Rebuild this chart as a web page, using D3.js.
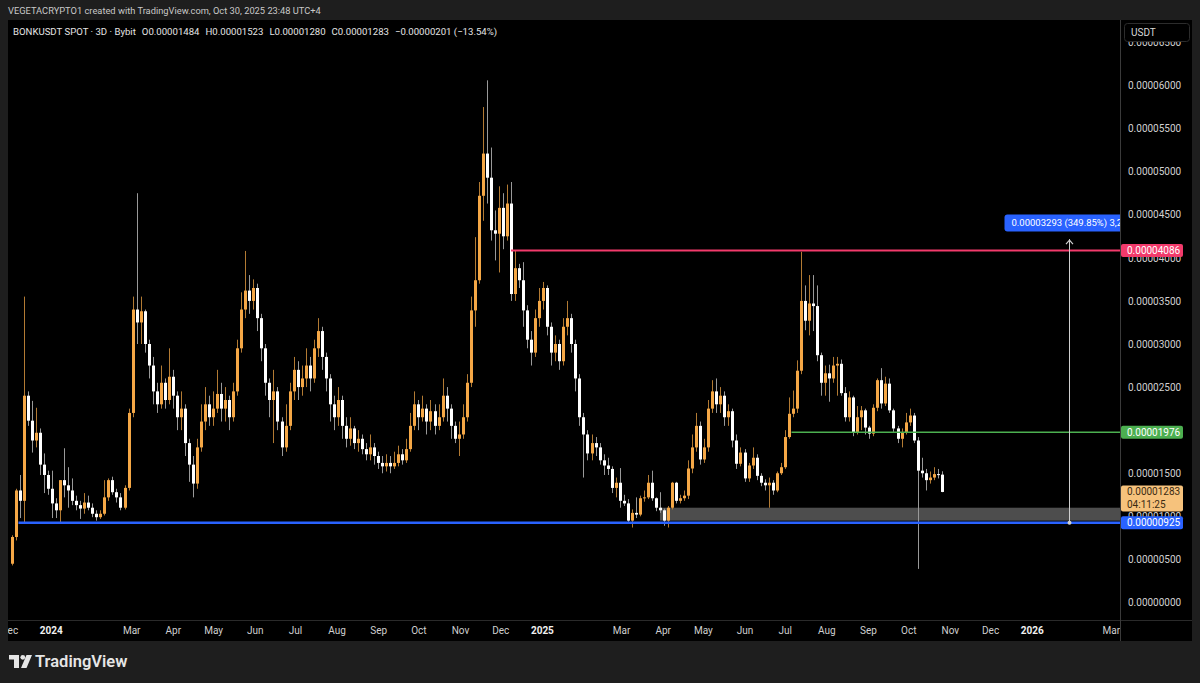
<!DOCTYPE html>
<html><head><meta charset="utf-8">
<script src="https://cdn.jsdelivr.net/npm/d3@7"></script>
<style>
html,body{margin:0;padding:0;background:#1e1e1e;}
svg{display:block;}
text{font-family:Roboto,"Noto Sans",sans-serif;}
</style></head><body>
<svg id="chart" width="1200" height="683"></svg>
<script>
// ---- DATA (prices in units of 1e-5 USDT) ----
const startDate = "2023-12-03";
const stepDays = 3;
const firstOpen = 0.45;
const closes = [
0.76,1.30,1.18,2.40,2.11,1.88,1.97,1.60,1.48,1.32,
1.15,1.07,1.42,1.36,1.30,1.18,1.13,1.09,1.16,1.10,
1.03,0.99,1.03,1.22,1.42,1.28,1.22,1.10,1.33,2.20,
3.40,3.25,3.38,3.00,2.75,2.45,2.30,2.55,2.35,2.62,
2.40,2.15,2.25,1.85,1.60,1.38,1.80,2.10,2.30,2.15,
2.25,2.42,2.25,2.35,2.15,2.45,2.95,3.40,3.62,3.50,
3.65,3.30,2.95,2.55,2.35,2.45,2.10,1.80,2.05,2.45,
2.70,2.50,2.60,2.75,2.60,2.95,3.15,2.85,2.60,2.30,
2.15,2.35,2.05,1.90,2.02,1.85,1.90,1.78,1.72,1.80,
1.70,1.62,1.58,1.62,1.58,1.62,1.72,1.65,1.78,2.05,
2.30,2.15,2.25,2.10,2.22,2.05,2.15,2.40,2.25,2.05,
1.90,1.95,2.15,2.55,3.39,3.74,4.72,5.21,4.93,4.32,
4.28,4.58,4.25,4.63,3.58,3.88,3.74,3.39,3.05,2.90,
3.30,3.50,3.65,3.20,2.90,3.00,2.80,3.20,3.30,3.00,
2.60,2.15,1.95,1.73,1.85,1.80,1.65,1.59,1.55,1.33,
1.39,1.18,1.15,0.95,1.04,1.02,1.21,1.22,1.39,1.21,
1.10,1.07,0.95,1.10,1.39,1.18,1.21,1.24,1.555,1.80,
2.05,1.66,1.80,2.25,2.45,2.30,2.40,2.15,2.22,1.88,
1.61,1.74,1.44,1.59,1.68,1.47,1.39,1.36,1.39,1.30,
1.50,1.57,1.92,2.19,2.25,2.69,3.50,3.27,3.47,3.44,
2.87,2.55,2.66,2.60,2.75,2.77,2.43,2.15,2.38,1.97,
2.15,2.23,2.03,1.96,2.26,2.58,2.31,2.54,2.23,2.02,
1.90,1.97,2.09,2.17,1.88,1.53,1.50,1.42,1.45,1.49,
1.484,1.283];
const highs = [
0.78,1.32,1.48,3.55,2.45,2.34,2.26,2.02,1.73,1.53,
1.53,1.21,1.42,1.79,1.57,1.44,1.24,1.18,1.27,1.24,
1.15,1.07,1.07,1.42,1.44,1.46,1.32,1.27,1.36,2.25,
3.55,4.75,3.55,3.40,3.05,2.85,2.55,2.75,2.60,2.95,
2.70,2.45,2.45,2.30,1.90,1.70,1.90,2.30,2.50,2.40,
2.45,2.70,2.55,2.50,2.40,2.55,3.05,3.60,4.08,3.80,
3.75,3.70,3.35,3.00,2.60,2.70,2.50,2.15,2.30,2.55,
2.85,2.80,2.75,2.95,2.85,3.05,3.30,3.20,2.90,2.65,
2.40,2.50,2.40,2.15,2.15,2.05,2.00,1.95,1.85,1.95,
1.85,1.75,1.70,1.72,1.70,1.75,1.82,1.78,1.90,2.20,
2.45,2.35,2.40,2.30,2.35,2.30,2.30,2.60,2.50,2.30,
2.10,2.10,2.30,2.65,3.55,4.24,4.88,5.75,6.06,5.28,
4.55,4.83,4.75,4.85,4.88,4.086,3.93,3.95,3.45,3.15,
3.40,3.65,3.72,3.68,3.25,3.10,3.05,3.30,3.50,3.35,
3.05,2.65,2.20,2.00,1.95,1.92,1.85,1.72,1.68,1.58,
1.45,1.56,1.25,1.20,1.08,1.22,1.24,1.30,1.48,1.53,
1.22,1.28,1.09,1.12,1.40,1.40,1.25,1.30,1.65,1.95,
2.20,2.10,1.90,2.35,2.58,2.60,2.50,2.45,2.30,2.25,
1.95,1.80,1.78,1.62,1.80,1.72,1.50,1.43,1.45,1.42,
1.52,1.62,2.00,2.38,2.46,2.81,4.07,3.68,3.80,3.80,
3.68,2.90,2.75,2.76,2.85,2.85,2.82,2.50,2.45,2.40,
2.28,2.28,2.25,2.05,2.30,2.60,2.72,2.62,2.60,2.25,
2.05,2.02,2.20,2.25,2.20,1.92,1.68,1.55,1.52,1.57,
1.55,1.523];
const lows = [
0.43,0.72,0.98,0.92,2.05,1.74,1.80,1.48,1.27,1.25,
0.98,0.98,0.92,1.22,1.10,1.13,1.07,0.97,1.03,1.07,
0.99,0.95,0.97,1.01,1.18,1.25,1.16,1.07,1.08,1.30,
2.15,3.00,3.00,2.90,2.60,2.30,2.20,2.25,2.25,2.30,
2.25,2.00,2.00,1.70,1.40,1.22,1.32,1.75,2.00,2.05,
2.05,2.20,2.10,2.10,2.00,2.10,2.40,2.90,3.30,3.35,
3.40,3.15,2.80,2.40,2.15,1.85,2.00,1.70,1.75,2.00,
2.35,2.35,2.40,2.50,2.45,2.55,2.85,2.70,2.45,2.10,
2.00,2.05,1.90,1.80,1.82,1.78,1.75,1.72,1.65,1.65,
1.60,1.55,1.50,1.52,1.50,1.55,1.58,1.60,1.62,1.75,
2.00,2.00,2.10,1.95,2.00,1.95,2.00,2.10,2.10,1.90,
1.85,1.70,1.90,2.10,2.50,3.20,3.70,4.43,4.63,4.20,
3.97,3.83,4.10,4.20,3.50,3.50,3.65,3.20,2.95,2.75,
2.85,3.20,3.40,3.10,2.75,2.80,2.70,2.75,3.10,2.90,
2.45,2.05,1.45,1.65,1.65,1.70,1.60,1.48,1.48,1.27,
1.22,1.10,1.12,0.93,0.87,0.98,1.00,1.17,1.20,1.18,
1.06,1.04,0.89,0.87,1.08,1.15,1.15,1.18,1.20,1.50,
1.75,1.60,1.62,1.75,2.20,2.20,2.20,2.05,2.05,1.80,
1.55,1.58,1.40,1.40,1.55,1.42,1.35,1.30,1.10,1.25,
1.28,1.48,1.55,1.90,2.15,2.20,2.65,3.16,3.10,3.15,
2.80,2.40,2.40,2.33,2.55,2.40,2.40,2.10,2.10,1.93,
1.95,2.00,1.95,1.90,1.93,2.22,2.25,2.28,2.20,1.98,
1.85,1.80,1.95,2.05,1.85,0.39,1.45,1.30,1.38,1.42,
1.44,1.280];

const priceTicks = [0,0.5,1,1.5,2,2.5,3,3.5,4,4.5,5,5.5,6,6.5];
const timeTickDates = ["2023-12-01","2024-01-01","2024-03-01","2024-04-01","2024-05-01","2024-06-01","2024-07-01","2024-08-01","2024-09-01","2024-10-01","2024-11-01","2024-12-01","2025-01-01","2025-03-01","2025-04-01","2025-05-01","2025-06-01","2025-07-01","2025-08-01","2025-09-01","2025-10-01","2025-11-01","2025-12-01","2026-01-01","2026-03-01"];
const timeTickLabels = ["Dec","2024","Mar","Apr","May","Jun","Jul","Aug","Sep","Oct","Nov","Dec","2025","Mar","Apr","May","Jun","Jul","Aug","Sep","Oct","Nov","Dec","2026","Mar"];

const levelValues = [4.086, 1.976, 0.925];
const levelStarts = ["2024-12-09","2025-07-06","2023-12-08"];
const levelColors = ["#f23a6b","#4caf50","#2962ff"];
const levelLabels = ["0.00004086","0.00001976","0.00000925"];

const zoneRange = [0.95, 1.10];
const zoneStart = "2025-03-30";
const measureFrom = 0.925, measureTo = 4.218, measureDate = "2026-01-29";
const measureText = "0.00003293 (349.85%) 3,293";
const lastLabel = ["0.00001283","04:11:25"];

const headerTitle = "VEGETACRYPTO1 created with TradingView.com, Oct 30, 2025 23:48 UTC+4";
const legendParts = ["BONKUSDT SPOT · 3D · Bybit","O0.00001484","H0.00001523","L0.00001280","C0.00001283","−0.00000201 (−13.54%)"];

// ---- DRAW ----
const svg = d3.select("#chart");
const parse = d3.utcParse("%Y-%m-%d");
const plot = {x0:8, x1:1120, y0:20, y1:620};

svg.append("rect").attr("width",1200).attr("height",683).attr("fill","#1e1e1e");
svg.append("rect").attr("x",8).attr("y",20).attr("width",1184).attr("height",621).attr("fill","#000");

const x = d3.scaleUtc().domain([parse("2024-01-01"), parse("2026-01-01")]).range([50.7, 1031.7]);
const y = d3.scaleLinear().domain([0,6]).range([602.5,85.5]);

const defs = svg.append("defs");
defs.append("clipPath").attr("id","plotClip").append("rect")
  .attr("x",plot.x0).attr("y",plot.y0).attr("width",plot.x1-plot.x0).attr("height",plot.y1-plot.y0);
defs.append("clipPath").attr("id","timeClip").append("rect")
  .attr("x",8).attr("y",620).attr("width",1112).attr("height",21);

const g = svg.append("g").attr("clip-path","url(#plotClip)");

// zone
g.append("rect")
  .attr("x", x(parse(zoneStart))).attr("y", y(zoneRange[1]))
  .attr("width", plot.x1 - x(parse(zoneStart))).attr("height", y(zoneRange[0]) - y(zoneRange[1]))
  .attr("fill","#4d4d4d");

// candles
const t0 = parse(startDate);
const candles = closes.map((c,i)=>({
  date: d3.utcDay.offset(t0, i*stepDays),
  o: i===0 ? firstOpen : closes[i-1], h: highs[i], l: lows[i], c
}));
const cg = g.append("g");
const bw = 3;
candles.forEach(d=>{
  const up = d.c >= d.o;
  const cx = Math.round(x(d.date));
  cg.append("line")
    .attr("x1",cx+0.5).attr("x2",cx+0.5)
    .attr("y1",y(Math.max(d.h,d.o,d.c))).attr("y2",y(Math.min(d.l,d.o,d.c)))
    .attr("stroke", up ? "#b27a33" : "#999999").attr("stroke-width",1);
  const top = y(Math.max(d.o,d.c)), bot = y(Math.min(d.o,d.c));
  cg.append("rect")
    .attr("x",cx-1).attr("y",top).attr("width",bw).attr("height",Math.max(1,bot-top))
    .attr("fill", up ? "#f4a746" : "#ffffff");
});

// level lines
levelValues.forEach((v,i)=>{
  g.append("line")
    .attr("x1", x(parse(levelStarts[i]))).attr("x2", plot.x1)
    .attr("y1", y(v)).attr("y2", y(v))
    .attr("stroke", levelColors[i]).attr("stroke-width", i===2 ? 2.5 : (i===0 ? 2 : 1.6));
});

// measure
const mx = Math.round(x(parse(measureDate)))+0.5;
g.append("line").attr("x1",mx).attr("x2",mx).attr("y1",y(measureFrom)).attr("y2",y(measureTo))
  .attr("stroke","#cfcfcf").attr("stroke-width",1);
g.append("path").attr("d",`M${mx-3.5},${y(measureTo)+5}L${mx},${y(measureTo)+1}L${mx+3.5},${y(measureTo)+5}`)
  .attr("fill","none").attr("stroke","#cfcfcf").attr("stroke-width",1.2);
g.append("circle").attr("cx",mx).attr("cy",y(measureFrom)).attr("r",2).attr("fill","#cfcfcf");
const my = y(measureTo) - 16;
g.append("rect").attr("x",mx-65).attr("y",my-8.5).attr("width",132).attr("height",17).attr("rx",3)
  .attr("fill","#2962ff");
g.append("text").attr("x",mx-58).attr("y",my).attr("dy","0.35em")
  .attr("fill","#fff").attr("font-size","9.5px").text(measureText);

// separators
svg.append("line").attr("x1",8).attr("x2",1192).attr("y1",620.5).attr("y2",620.5).attr("stroke","#2a2a2a");
svg.append("line").attr("x1",1120.5).attr("x2",1120.5).attr("y1",20).attr("y2",641).attr("stroke","#3a3a3a");

// price axis
const yAxis = d3.axisRight(y).tickValues(priceTicks).tickSize(0).tickPadding(7)
  .tickFormat(v => (v/1e5).toFixed(8));
const ya = svg.append("g").attr("transform","translate(1121,0)").call(yAxis);
ya.select(".domain").remove();
ya.selectAll("text").attr("fill","#d1d1d1").attr("font-size","10px").attr("font-family","Roboto,sans-serif");

// time axis
const tDates = timeTickDates.map(parse);
const xAxis = d3.axisBottom(x).tickValues(tDates).tickSize(0).tickPadding(0)
  .tickFormat((d,i)=>timeTickLabels[i]);
const xa = svg.append("g").attr("clip-path","url(#timeClip)").append("g")
  .attr("transform","translate(0,627)").call(xAxis);
xa.select(".domain").remove();
xa.selectAll("text").attr("font-size","10px").attr("font-family","Roboto,sans-serif")
  .attr("font-weight",(d,i)=>/^\d{4}$/.test(timeTickLabels[i]) ? "700" : "400")
  .attr("fill",(d,i)=>/^\d{4}$/.test(timeTickLabels[i]) ? "#f0f0f0" : "#cfcfcf");

// USDT box
svg.append("rect").attr("x",1124.5).attr("y",23.5).attr("width",65).attr("height",18).attr("rx",3)
  .attr("fill","#000").attr("stroke","#2c2c2c");
svg.append("text").attr("x",1131).attr("y",32.5).attr("dy","0.35em").attr("fill","#d8d8d8")
  .attr("font-size","10px").text("USDT");

// level labels on axis
levelValues.forEach((v,i)=>{
  svg.append("rect").attr("x",1121).attr("y",y(v)-6.5).attr("width",62).attr("height",13).attr("rx",2)
    .attr("fill",levelColors[i]);
  svg.append("text").attr("x",1127).attr("y",y(v)).attr("dy","0.35em").attr("fill","#fff")
    .attr("font-size","10px").text(levelLabels[i]);
});
// last price label
const lc = closes[closes.length-1];
svg.append("rect").attr("x",1121).attr("y",y(lc)-6.5).attr("width",62).attr("height",26).attr("rx",2)
  .attr("fill","#f6c27c");
svg.append("text").attr("x",1127).attr("y",y(lc)).attr("dy","0.35em").attr("fill","#3a2a12")
  .attr("font-size","10px").text(lastLabel[0]);
svg.append("text").attr("x",1127).attr("y",y(lc)+12.5).attr("dy","0.35em").attr("fill","#3a2a12")
  .attr("font-size","10px").text(lastLabel[1]);

// header
svg.append("text").attr("x",8).attr("y",11).attr("dy","0.35em").attr("fill","#c8c8c8")
  .attr("font-size","9.3px").text(headerTitle);
const legend = svg.append("text").attr("x",13).attr("y",31.5).attr("dy","0.35em").attr("fill","#e4e4e4")
  .attr("font-size","9.6px");
legendParts.forEach((p,i)=>{
  legend.append("tspan").attr("dx", i===0 ? 0 : 6).text(p);
});

// logo
const lg = svg.append("g").attr("fill","#e6e6e6");
lg.append("rect").attr("x",9).attr("y",655).attr("width",10).attr("height",4.5);
lg.append("rect").attr("x",14).attr("y",655).attr("width",5).attr("height",13);
lg.append("circle").attr("cx",22.8).attr("cy",657.3).attr("r",2.4);
lg.append("path").attr("d","M26.5,655L32,655L26.5,668L21,668Z");
lg.append("text").attr("x",35).attr("y",661.5).attr("dy","0.36em").attr("font-size","16.5px")
  .attr("font-weight","600").attr("font-family","Inter,Roboto,sans-serif").text("TradingView");
</script>
</body></html>
